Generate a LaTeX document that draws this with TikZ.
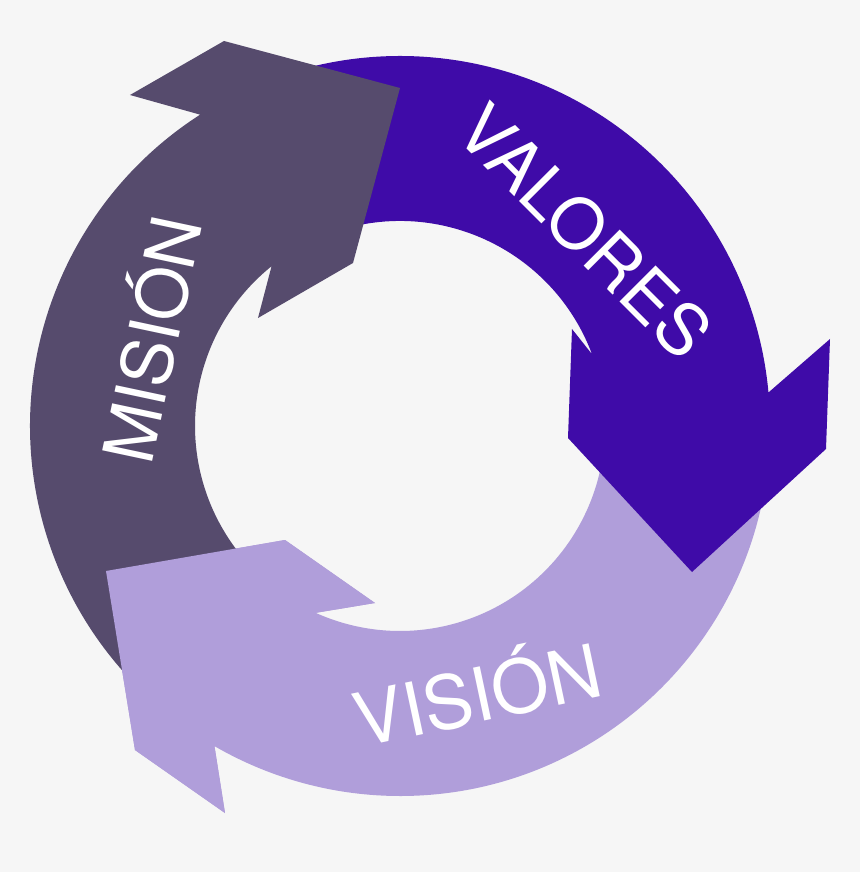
\documentclass[tikz,border=0pt]{standalone}
\usepackage{fontspec}
\setmainfont{TeX Gyre Heros}
\usepackage{tikz}
\definecolor{bgcol}{HTML}{F6F6F6}
\definecolor{misioncol}{HTML}{564B6D}
\definecolor{valorescol}{HTML}{3F0BA8}
\definecolor{visioncol}{HTML}{B09EDA}
\tikzstyle{band}=[draw=none]
\tikzstyle{mision}=[band, fill=misioncol]
\tikzstyle{valores}=[band, fill=valorescol]
\tikzstyle{vision}=[band, fill=visioncol]
\tikzstyle{lbl}=[text=white, inner sep=0pt, anchor=base, font=\fontsize{70}{80}\selectfont]

\begin{document}
\begin{tikzpicture}[x=1pt, y=1pt]
        \useasboundingbox[fill=bgcol] (-400,-446) rectangle (460,426);
        \fill[vision] (-2:205pt) -- (-2:370pt) arc[start angle=-2, end angle=-120.1, radius=370pt] coordinate (vn2)
            -- (-175,-387) coordinate (vb2) -- (-265,-324) coordinate (va2) -- (-294,-145) coordinate (vt)
            -- (-115,-114) coordinate (va1) -- (-25,-177) coordinate (vb1) -- (-114.3:205pt) coordinate (vn1)
            arc[start angle=-114.3, end angle=-2, radius=205pt] -- cycle;
        \fill[valores] (110:205pt) -- (110:370pt) arc[start angle=110, end angle=5.2, radius=370pt]
            -- (430,87) -- (426,-23) -- (292,-146) -- (168,-12) -- (172,97) -- (20.5:205pt)
            arc[start angle=20.5, end angle=110, radius=205pt] -- cycle;
        \fill[mision] (232:205pt) -- (232:370pt) arc[start angle=232, end angle=122.7, radius=370pt]
            -- (-270,331) -- (-176,385) -- (0,338) -- (-47,163) -- (-142,108) -- (128.8:205pt)
            arc[start angle=128.8, end angle=232, radius=205pt] -- cycle;
        \fill[vision] (vn2) -- (vb2) -- (va2) -- (vt) -- (va1) -- (vb1) -- (vn1) -- cycle;
        \node[lbl, rotate=-45] (valores) at (167,177) {VALORES};
        \node[lbl, rotate=12, font=\fontsize{74}{80}\selectfont] (vision) at (83.5,-295.5) {VISIÓN};
        \node[lbl, rotate=78] (mision) at (-222.5,81) {MISIÓN};
    \end{tikzpicture}
\end{document}
